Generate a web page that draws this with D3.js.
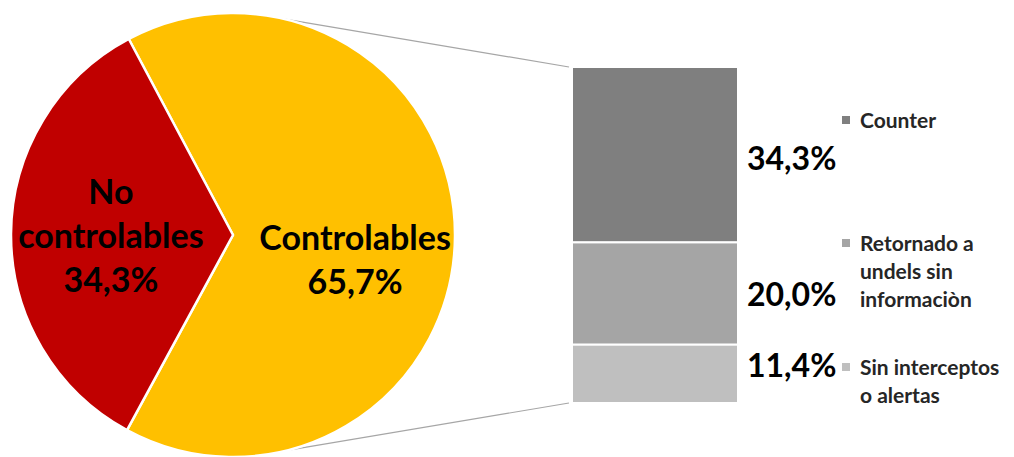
<!DOCTYPE html>
<html>
<head>
<meta charset="utf-8">
<script src="https://cdn.jsdelivr.net/npm/d3@7"></script>
<style>
  body { margin: 0; background: #fff; }
  text { font-family: Lato, "Open Sans", sans-serif; font-weight: bold; }
</style>
</head>
<body>
<div id="chart"></div>
<script>
// data
var pieCats = ["Controlables", "No controlables"];
var pieValues = [65.7, 34.3];
var pieLabelLines = [["Controlables", "65,7%"], ["No", "controlables", "34,3%"]];
var pieColors = ["#ffc000", "#c00000"];

var barCats = ["Counter", "Retornado a undels sin informaciòn", "Sin interceptos o alertas"];
var barValues = [34.3, 20.0, 11.4];
var barLabels = ["34,3%", "20,0%", "11,4%"];
var legendLines = [["Counter"], ["Retornado a", "undels sin", "informaciòn"], ["Sin interceptos", "o alertas"]];
var barColors = ["#7f7f7f", "#a5a5a5", "#bfbfbf"];

var width = 1014, height = 457;
var cx = 233, cy = 235, r = 222;
var deg = Math.PI / 180;

var svg = d3.select("#chart").append("svg")
  .attr("width", width)
  .attr("height", height);

// pie
var pie = d3.pie().sort(null)
  .startAngle(-28 * deg)
  .endAngle(332 * deg);
var arcs = pie(pieValues);
var arc = d3.arc().innerRadius(0).outerRadius(r);
var labelArc = d3.arc().innerRadius(0).outerRadius(r * 1.1);

var g = svg.append("g").attr("transform", "translate(" + cx + "," + cy + ")");

// connector lines (pie edge -> bar)
var bx0 = 572, bx1 = 738, by0 = 67, by1 = 403;
var linePts = [[13.5 * deg, by0], [166.3 * deg, by1]];
g.selectAll(".conn")
  .data(linePts)
  .enter().append("line")
    .attr("class", "conn")
    .attr("x1", function(d) { return r * Math.sin(d[0]); })
    .attr("y1", function(d) { return -r * Math.cos(d[0]); })
    .attr("x2", bx0 - cx - 3)
    .attr("y2", function(d) { return d[1] - cy; })
    .attr("stroke", "#a6a6a6")
    .attr("stroke-width", 1.2);

g.selectAll(".slice")
  .data(arcs)
  .enter().append("path")
    .attr("class", "slice")
    .attr("d", arc)
    .attr("fill", function(d, i) { return pieColors[i]; })
    .attr("stroke", "#fff")
    .attr("stroke-width", 2.5)
    .attr("stroke-linejoin", "round");

var pieFont = 34, pieLine = 44;
var pieOffsets = [25, 2];
g.selectAll(".plabel")
  .data(arcs)
  .enter().append("text")
    .attr("class", "plabel")
    .attr("text-anchor", "middle")
    .attr("font-size", pieFont)
    .attr("fill", "#000")
    .each(function(d, i) {
      var c = labelArc.centroid(d);
      var lines = pieLabelLines[i];
      var t = d3.select(this);
      lines.forEach(function(l, j) {
        t.append("tspan")
          .attr("x", c[0])
          .attr("y", c[1] + pieOffsets[i] + (j - (lines.length - 1) / 2) * pieLine + pieFont * 0.35)
          .text(l);
      });
    });

// stacked bar
var total = d3.sum(barValues);
var y = d3.scaleLinear().domain([0, total]).range([by0, by1]);
var stack = [];
var acc = 0;
barValues.forEach(function(v, i) {
  stack.push({ cat: barCats[i], v0: acc, v1: acc + v, i: i });
  acc += v;
});

svg.selectAll(".seg")
  .data(stack)
  .enter().append("rect")
    .attr("class", "seg")
    .attr("x", bx0)
    .attr("width", bx1 - bx0)
    .attr("y", function(d) { return y(d.v0); })
    .attr("height", function(d) { return y(d.v1) - y(d.v0); })
    .attr("fill", function(d) { return barColors[d.i]; })
    .attr("stroke", "#fff")
    .attr("stroke-width", 2);

var valFont = 32;
var valOffsets = [4, 1, -8];
svg.selectAll(".vlabel")
  .data(stack)
  .enter().append("text")
    .attr("class", "vlabel")
    .attr("x", 747)
    .attr("y", function(d) { return (y(d.v0) + y(d.v1)) / 2 + valOffsets[d.i] + valFont * 0.36; })
    .attr("font-size", valFont)
    .attr("fill", "#000")
    .text(function(d) { return barLabels[d.i]; });

// legend
var legY = [120, 243, 367];
var legFont = 21, legLine = 28;
var leg = svg.selectAll(".leg")
  .data(stack)
  .enter().append("g")
    .attr("class", "leg");
leg.append("rect")
  .attr("x", 842)
  .attr("y", function(d) { return legY[d.i] - 4; })
  .attr("width", 8)
  .attr("height", 8)
  .attr("fill", function(d) { return barColors[d.i]; });
leg.append("text")
  .attr("font-size", legFont)
  .attr("fill", "#262626")
  .each(function(d) {
    var t = d3.select(this);
    legendLines[d.i].forEach(function(l, j) {
      t.append("tspan")
        .attr("x", 860)
        .attr("y", legY[d.i] + j * legLine + legFont * 0.36)
        .text(l);
    });
  });
</script>
</body>
</html>
